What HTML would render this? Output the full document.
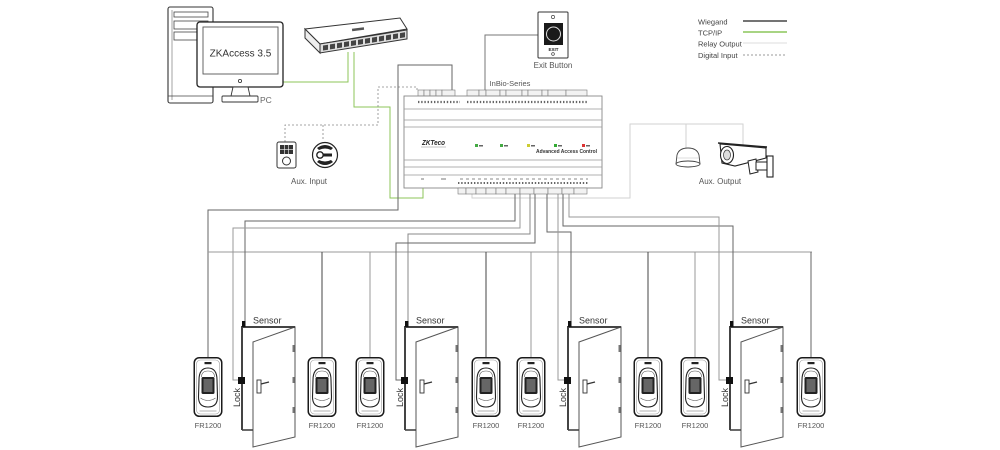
<!DOCTYPE html>
<html><head><meta charset="utf-8">
<style>
html,body{margin:0;padding:0;background:#fff;}
svg{display:block;}
text{font-family:"Liberation Sans",sans-serif;}
</style></head><body>
<svg width="1000" height="450" viewBox="0 0 1000 450" xmlns="http://www.w3.org/2000/svg">
<defs>
<g id="rdr">
 <rect x="0.75" y="0.75" width="27.5" height="58.5" rx="5" fill="#fff" stroke="#1a1a1a" stroke-width="1.5"/>
 <rect x="3" y="3" width="23" height="54" rx="4" fill="none" stroke="#999" stroke-width="0.6"/>
 <rect x="11" y="5" width="7" height="2.2" fill="#222"/>
 <path d="M5.5,23 Q5.5,11 14.5,11 Q23.5,11 23.5,23 L24,40 Q24,50 14.5,50 Q5,50 5,40 Z" fill="#fff" stroke="#222" stroke-width="1.1"/>
 <path d="M8,20 Q8,14 14.5,14 Q21,14 21,20" fill="none" stroke="#555" stroke-width="0.6"/>
 <rect x="8" y="20" width="13" height="17" rx="1.5" fill="#222"/>
 <rect x="10" y="22" width="9" height="13" fill="#666"/>
 <path d="M7,41 Q14.5,46 22,41" fill="none" stroke="#555" stroke-width="0.6"/>
 <line x1="6" y1="54" x2="23" y2="54" stroke="#666" stroke-width="0.6"/>
</g>
<g id="door">
 <polygon points="11,342 53,327 53,437 11,447" fill="#fff" stroke="#555" stroke-width="1"/>
 <path d="M0,430 L0,327 L53,327" fill="none" stroke="#444" stroke-width="2"/>
 <line x1="0" y1="430" x2="11" y2="430" stroke="#444" stroke-width="1.6"/>
 <rect x="50.5" y="345" width="2" height="7" fill="#777"/>
 <rect x="50.5" y="377" width="2" height="6" fill="#777"/>
 <rect x="50.5" y="407" width="2" height="6" fill="#777"/>
 <rect x="15" y="380" width="4" height="13" fill="#fff" stroke="#333" stroke-width="0.9"/>
 <line x1="19" y1="384" x2="27" y2="382" stroke="#333" stroke-width="1.2"/>
 <rect x="0" y="321" width="3.5" height="6" fill="#111"/>
 <rect x="-4" y="377" width="7" height="7" fill="#111"/>
 <text x="11" y="323.5" font-size="9" fill="#333">Sensor</text>
 <text transform="translate(-2,407) rotate(-90)" font-size="9" fill="#333">Lock</text>
</g>
</defs>

<!-- ===== Legend ===== -->
<g font-size="7.5" fill="#444">
 <text x="698" y="24.5">Wiegand</text>
 <text x="698" y="35.5">TCP/IP</text>
 <text x="698" y="46.5">Relay Output</text>
 <text x="698" y="58">Digital Input</text>
</g>
<line x1="743" y1="21" x2="787" y2="21" stroke="#222" stroke-width="1.3"/>
<line x1="743" y1="32" x2="787" y2="32" stroke="#8cc65a" stroke-width="1.4"/>
<line x1="743" y1="43" x2="787" y2="43" stroke="#dcdcdc" stroke-width="1"/>
<line x1="743" y1="55" x2="787" y2="55" stroke="#777" stroke-width="0.8" stroke-dasharray="2,2"/>

<!-- ===== Connectors (upper) ===== -->
<!-- TCP/IP green -->
<polyline points="282,82 348,82 348,52" fill="none" stroke="#8cc65a" stroke-width="1"/>
<polyline points="354,52 354,107 390,107 390,198 423,198 423,188" fill="none" stroke="#8cc65a" stroke-width="1"/>
<!-- digital input dashed -->
<polyline points="285,142 285,125 378,125 378,87 417,87 417,91" fill="none" stroke="#888" stroke-width="0.8" stroke-dasharray="2,2"/>
<line x1="323" y1="125" x2="323" y2="141" stroke="#888" stroke-width="0.8" stroke-dasharray="2,2"/>
<!-- wiegand from top terminal to reader 1 -->
<polyline points="452,90 452,65 398,65 398,210 208,210 208,357" fill="none" stroke="#666" stroke-width="1"/>
<!-- exit button -->
<polyline points="538,35 485,35 485,90" fill="none" stroke="#777" stroke-width="1"/>
<!-- relay output -->
<polyline points="472,194 472,198 630,198 630,124 743,124 743,146" fill="none" stroke="#d2d2d2" stroke-width="1"/>
<line x1="686" y1="124" x2="686" y2="148" stroke="#d2d2d2" stroke-width="1"/>

<!-- ===== Bottom wiring ===== -->
<line x1="208" y1="252" x2="812" y2="252" stroke="#999" stroke-width="1"/>
<g fill="none" stroke-width="1">
 <line x1="322" y1="252" x2="322" y2="357" stroke="#444"/>
 <line x1="370" y1="252" x2="370" y2="357" stroke="#999"/>
 <line x1="486" y1="252" x2="486" y2="357" stroke="#444"/>
 <line x1="531" y1="252" x2="531" y2="357" stroke="#999"/>
 <line x1="648" y1="252" x2="648" y2="357" stroke="#444"/>
 <line x1="695" y1="252" x2="695" y2="357" stroke="#999"/>
 <line x1="811" y1="252" x2="811" y2="357" stroke="#666"/>
 <!-- door 1 -->
 <polyline points="515,194 515,221 245,221 245,321" stroke="#666"/>
 <polyline points="520,194 520,228 233,228 233,380 238,380" stroke="#999"/>
 <!-- door 2 -->
 <polyline points="530,194 530,234 408,234 408,321" stroke="#888"/>
 <polyline points="535,194 535,243 396,243 396,380 401,380" stroke="#666"/>
 <!-- door 3 -->
 <polyline points="547,194 547,232 571,232 571,321" stroke="#666"/>
 <polyline points="558,194 558,380 564,380" stroke="#999"/>
 <!-- door 4 -->
 <polyline points="563,194 563,226 733,226 733,321" stroke="#666"/>
 <polyline points="569,194 569,217 719,217 719,380 726,380" stroke="#999"/>
</g>

<!-- ===== PC ===== -->
<rect x="168" y="7" width="45" height="96" rx="2" fill="#fff" stroke="#333" stroke-width="1.1"/>
<line x1="172" y1="10" x2="172" y2="100" stroke="#666" stroke-width="0.6"/>
<rect x="174" y="12" width="34" height="5" fill="#fff" stroke="#444" stroke-width="0.8"/>
<rect x="174" y="21" width="34" height="8" fill="#fff" stroke="#444" stroke-width="0.8"/>
<rect x="174" y="32" width="34" height="8" fill="#fff" stroke="#444" stroke-width="0.8"/>
<line x1="168" y1="96" x2="213" y2="96" stroke="#444" stroke-width="0.8"/>
<rect x="197" y="22" width="86" height="65" rx="3" fill="#fff" stroke="#222" stroke-width="1.3"/>
<rect x="203" y="27" width="75" height="47" fill="#fff" stroke="#555" stroke-width="0.9"/>
<circle cx="240" cy="81" r="1.6" fill="none" stroke="#333" stroke-width="0.8"/>
<polygon points="233,87 248,87 250,96 231,96" fill="#fff" stroke="#333" stroke-width="0.9"/>
<rect x="222" y="96" width="36" height="6" rx="1" fill="#fff" stroke="#333" stroke-width="0.9"/>
<text x="240.5" y="56.5" font-size="10" fill="#333" text-anchor="middle">ZKAccess 3.5</text>
<text x="260" y="103" font-size="8.5" fill="#666">PC</text>

<!-- ===== Switch ===== -->
<polygon points="305,29 400,18 407,29 320,44" fill="#fff" stroke="#333" stroke-width="1"/>
<polygon points="305,29 320,44 320,53 305,38" fill="#eee" stroke="#333" stroke-width="1"/>
<g transform="matrix(1,-0.161,0,1,0,0)">
 <rect x="320" y="95.5" width="87" height="9" fill="#ddd" stroke="#333" stroke-width="1"/>
 <g fill="#444">
  <rect x="323" y="97.5" width="5" height="5"/><rect x="330" y="97.5" width="5" height="5"/>
  <rect x="337" y="97.5" width="5" height="5"/><rect x="344" y="97.5" width="5" height="5"/>
  <rect x="351" y="97.5" width="5" height="5"/><rect x="358" y="97.5" width="5" height="5"/>
  <rect x="365" y="97.5" width="5" height="5"/><rect x="372" y="97.5" width="5" height="5"/>
  <rect x="379" y="97.5" width="5" height="5"/><rect x="386" y="97.5" width="5" height="5"/>
  <rect x="393" y="97.5" width="5" height="5"/><rect x="400" y="97.5" width="5" height="5"/>
 </g>
</g>
<rect x="352" y="28" width="12" height="2.5" fill="#555" transform="rotate(-7 358 29)"/>

<!-- ===== Exit button ===== -->
<rect x="538" y="12" width="30" height="46" rx="1" fill="#fff" stroke="#333" stroke-width="1"/>
<circle cx="553" cy="17" r="1.6" fill="none" stroke="#444" stroke-width="0.7"/>
<rect x="544" y="23" width="19" height="22" fill="#1a1a1a"/>
<circle cx="553.5" cy="34" r="7" fill="none" stroke="#ddd" stroke-width="1"/>
<text x="553.5" y="51" font-size="4.5" font-weight="bold" fill="#222" text-anchor="middle">EXIT</text>
<circle cx="553" cy="54" r="1.4" fill="none" stroke="#444" stroke-width="0.7"/>
<text x="553" y="68" font-size="8" fill="#555" text-anchor="middle">Exit Button</text>

<!-- ===== Controller ===== -->
<text x="510" y="86" font-size="7.5" fill="#555" text-anchor="middle">InBio-Series</text>
<g fill="#f2f2f2" stroke="#777" stroke-width="0.6">
 <rect x="418" y="90" width="6" height="6"/><rect x="424" y="90" width="6" height="6"/>
 <rect x="430" y="90" width="6" height="6"/><rect x="436" y="90" width="6" height="6"/>
 <rect x="442" y="90" width="13" height="6"/>
 <rect x="467" y="90" width="12" height="6"/><rect x="479" y="90" width="7" height="6"/>
 <rect x="486" y="90" width="14" height="6"/><rect x="500" y="90" width="6" height="6"/>
 <rect x="506" y="90" width="16" height="6"/><rect x="522" y="90" width="6" height="6"/>
 <rect x="528" y="90" width="14" height="6"/><rect x="542" y="90" width="6" height="6"/>
 <rect x="548" y="90" width="18" height="6"/><rect x="566" y="90" width="21" height="6"/>
</g>
<rect x="404" y="96" width="198" height="92" fill="#fff" stroke="#888" stroke-width="0.9"/>
<line x1="418" y1="102" x2="460" y2="102" stroke="#666" stroke-width="2.2" stroke-dasharray="1.4,1.8"/>
<line x1="467" y1="102" x2="588" y2="102" stroke="#666" stroke-width="2.2" stroke-dasharray="1.4,1.8"/>
<g stroke="#999" stroke-width="0.8">
 <line x1="404" y1="109" x2="602" y2="109"/>
 <line x1="404" y1="120" x2="602" y2="120"/>
 <line x1="404" y1="127" x2="602" y2="127"/>
 <line x1="404" y1="160" x2="602" y2="160"/>
 <line x1="404" y1="167" x2="602" y2="167"/>
 <line x1="404" y1="175" x2="602" y2="175"/>
</g>
<text x="422" y="145" font-size="7" font-weight="bold" font-style="italic" fill="#222" textLength="23" lengthAdjust="spacingAndGlyphs">ZKTeco</text>
<line x1="421" y1="147" x2="446" y2="147" stroke="#888" stroke-width="0.5"/>
<g>
 <rect x="475" y="144" width="3" height="3" fill="#4a4"/><rect x="479" y="145" width="4" height="1.5" fill="#666"/>
 <rect x="500" y="144" width="3" height="3" fill="#4a4"/><rect x="504" y="145" width="4" height="1.5" fill="#666"/>
 <rect x="527" y="144" width="3" height="3" fill="#cc3"/><rect x="531" y="145" width="4" height="1.5" fill="#666"/>
 <rect x="554" y="144" width="3" height="3" fill="#3a3"/><rect x="558" y="145" width="4" height="1.5" fill="#666"/>
 <rect x="582" y="144" width="3" height="3" fill="#d33"/><rect x="586" y="145" width="4" height="1.5" fill="#666"/>
</g>
<text x="536" y="153" font-size="5" font-weight="bold" fill="#333" textLength="61" lengthAdjust="spacingAndGlyphs">Advanced Access Control</text>
<line x1="421" y1="179" x2="424" y2="179" stroke="#777" stroke-width="1"/>
<line x1="441" y1="179" x2="446" y2="179" stroke="#777" stroke-width="1"/>
<line x1="460" y1="179" x2="588" y2="179" stroke="#888" stroke-width="1" stroke-dasharray="3,3"/>
<line x1="458" y1="183" x2="588" y2="183" stroke="#666" stroke-width="2" stroke-dasharray="1.4,1.8"/>
<g fill="#f2f2f2" stroke="#777" stroke-width="0.6">
 <rect x="458" y="188" width="8" height="6"/><rect x="466" y="188" width="10" height="6"/>
 <rect x="476" y="188" width="10" height="6"/><rect x="486" y="188" width="10" height="6"/>
 <rect x="496" y="188" width="10" height="6"/><rect x="506" y="188" width="14" height="6"/>
 <rect x="520" y="188" width="14" height="6"/><rect x="534" y="188" width="14" height="6"/>
 <rect x="548" y="188" width="14" height="6"/><rect x="562" y="188" width="12" height="6"/>
 <rect x="574" y="188" width="13" height="6"/>
</g>

<!-- ===== Aux input ===== -->
<rect x="277" y="142" width="19" height="26" rx="2" fill="#fff" stroke="#333" stroke-width="1"/>
<rect x="280" y="145" width="13" height="9" fill="#333"/>
<line x1="284.3" y1="145" x2="284.3" y2="154" stroke="#fff" stroke-width="0.6"/>
<line x1="288.6" y1="145" x2="288.6" y2="154" stroke="#fff" stroke-width="0.6"/>
<line x1="280" y1="149.5" x2="293" y2="149.5" stroke="#fff" stroke-width="0.6"/>
<circle cx="286.5" cy="161" r="4" fill="#fff" stroke="#333" stroke-width="1"/>
<circle cx="325" cy="155" r="12.5" fill="#fff" stroke="#222" stroke-width="1.2"/>
<path d="M317,148 Q325,142 333,148 L331,150 Q325,147 319,150 Z" fill="#222"/>
<path d="M317,162 Q325,168 333,162 L331,160 Q325,163 319,160 Z" fill="#222"/>
<circle cx="320" cy="155" r="3.2" fill="#fff" stroke="#222" stroke-width="1.4"/>
<rect x="323" y="153.5" width="9" height="3" fill="#222"/>
<text x="309" y="184" font-size="8" fill="#555" text-anchor="middle">Aux. Input</text>

<!-- ===== Aux output ===== -->
<path d="M676,164 L677,155 Q679,148 688,148 Q697,148 699,155 L700,164" fill="#fff" stroke="#444" stroke-width="0.9"/>
<ellipse cx="688" cy="164" rx="12" ry="3" fill="#fff" stroke="#444" stroke-width="0.9"/>
<line x1="677" y1="158" x2="699" y2="158" stroke="#bbb" stroke-width="0.6"/>
<polygon points="720,144 766,148 766,158 735,166 722,163" fill="#fff" stroke="#222" stroke-width="1.1"/>
<line x1="718" y1="143" x2="767" y2="147" stroke="#222" stroke-width="1.4"/>
<ellipse cx="727" cy="155" rx="6.5" ry="8.5" fill="#fff" stroke="#222" stroke-width="1.1"/>
<ellipse cx="727" cy="155" rx="3.5" ry="5" fill="#ddd" stroke="#444" stroke-width="0.8"/>
<polygon points="748,161 756,159 758,172 750,174" fill="#fff" stroke="#222" stroke-width="1"/>
<rect x="756" y="162" width="12" height="8" fill="#fff" stroke="#222" stroke-width="1"/>
<rect x="767" y="156" width="6" height="21" fill="#fff" stroke="#222" stroke-width="1.1"/>
<text x="720" y="184" font-size="8" fill="#555" text-anchor="middle">Aux. Output</text>

<!-- ===== Readers ===== -->
<use href="#rdr" x="193.5" y="357"/>
<use href="#rdr" x="307.5" y="357"/>
<use href="#rdr" x="355.5" y="357"/>
<use href="#rdr" x="471.5" y="357"/>
<use href="#rdr" x="516.5" y="357"/>
<use href="#rdr" x="633.5" y="357"/>
<use href="#rdr" x="680.5" y="357"/>
<use href="#rdr" x="796.5" y="357"/>
<g font-size="7.5" fill="#555" text-anchor="middle">
 <text x="208" y="428">FR1200</text>
 <text x="322" y="428">FR1200</text>
 <text x="370" y="428">FR1200</text>
 <text x="486" y="428">FR1200</text>
 <text x="531" y="428">FR1200</text>
 <text x="648" y="428">FR1200</text>
 <text x="695" y="428">FR1200</text>
 <text x="811" y="428">FR1200</text>
</g>

<!-- ===== Doors ===== -->
<use href="#door" x="242" y="0"/>
<use href="#door" x="405" y="0"/>
<use href="#door" x="568" y="0"/>
<use href="#door" x="730" y="0"/>
</svg>
</body></html>
